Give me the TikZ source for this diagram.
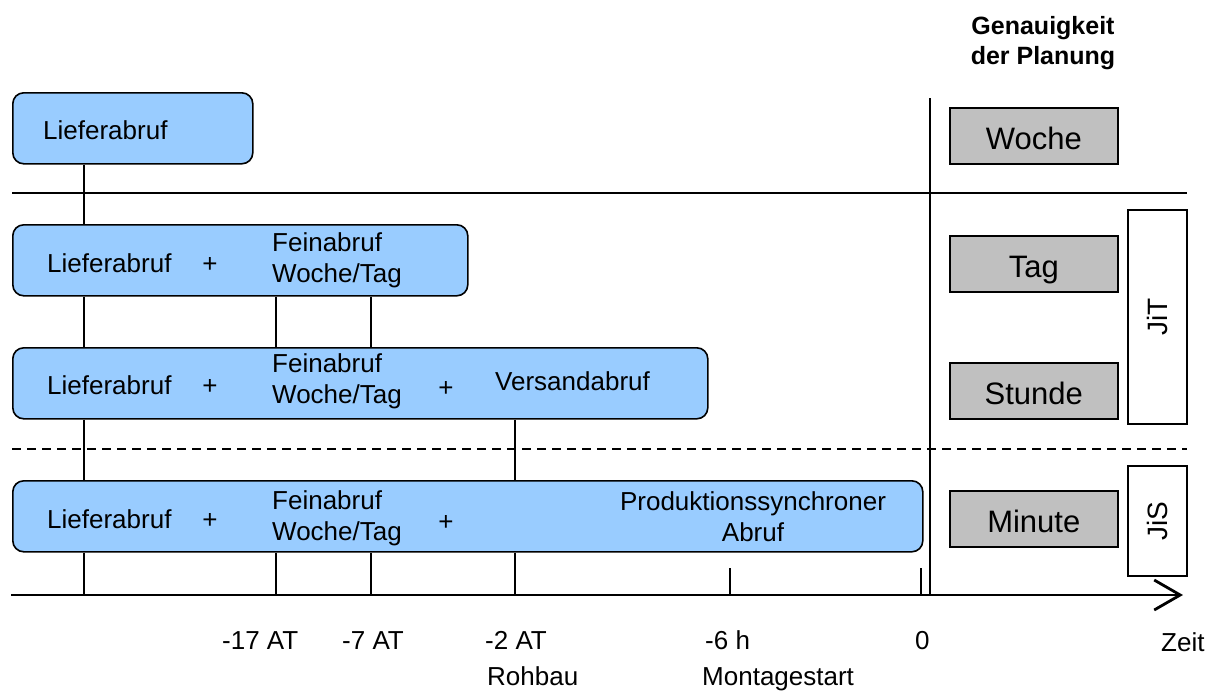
\documentclass[tikz,border=0pt]{standalone}
\usepackage{fontspec}
\setmainfont{Liberation Sans}
\usetikzlibrary{positioning,arrows.meta}
\definecolor{abrufblue}{HTML}{99CCFF}
\definecolor{stufegray}{HTML}{C0C0C0}

\begin{document}
\begin{tikzpicture}[x=1pt,y=-1pt,
  abruf/.style={draw,line width=1.6pt,rounded corners=11pt,fill=abrufblue,anchor=north west,inner sep=0pt,minimum height=71pt},
  stufe/.style={draw,line width=1.6pt,fill=stufegray,anchor=north west,minimum width=168pt,minimum height=56pt,inner sep=0pt,text height=30pt,text depth=2pt,font=\fontsize{31}{36}\selectfont},
  art/.style={draw,line width=1.6pt,anchor=north west,minimum width=59pt,inner sep=0pt},
  txt/.style={inner sep=0pt,font=\fontsize{26}{31}\selectfont},
  conn/.style={line width=1.6pt},
  sep/.style={line width=1.6pt}]
\useasboundingbox (0,0) rectangle (1216,691);

\node[txt,font=\fontsize{25}{30}\selectfont\bfseries,align=center] (head) at (1043,43) {Genauigkeit\\der Planung};

\node[abruf,minimum width=240pt] (lb1) at (12,92) {};
\node[abruf,minimum width=455pt] (lb2) at (12,224) {};
\node[abruf,minimum width=695pt] (lb3) at (12,347) {};
\node[abruf,minimum width=910pt] (lb4) at (12,480) {};

\node[txt,anchor=west] (l1) at (43,130) {Lieferabruf};

\node[txt,anchor=west] (l2) at (47,263) {Lieferabruf};
\node[txt] (p2) at (210,265) {+};
\node[txt,anchor=west,align=left] (f2) at (272,260) {Feinabruf\\Woche/Tag};

\node[txt,anchor=west] (l3) at (47,385) {Lieferabruf};
\node[txt] (p3a) at (210,387) {+};
\node[txt,anchor=west,align=left] (f3) at (272,381) {Feinabruf\\Woche/Tag};
\node[txt] (p3b) at (446,389) {+};
\node[txt,anchor=west] (v3) at (495,381) {Versandabruf};

\node[txt,anchor=west] (l4) at (47,519) {Lieferabruf};
\node[txt] (p4a) at (210,521) {+};
\node[txt,anchor=west,align=left] (f4) at (272,518) {Feinabruf\\Woche/Tag};
\node[txt] (p4b) at (446,523) {+};
\node[txt,align=center] (jis4) at (753,517) {Produktionssynchroner\\Abruf};

\node[stufe] (woche) at (949,107) {Woche};
\node[stufe] (tag) at (949,235) {Tag};
\node[stufe] (stunde) at (949,362) {Stunde};
\node[stufe] (minute) at (949,490) {Minute};

\node[art,minimum height=214pt] (jit) at (1127,209) {};
\node[txt,font=\fontsize{28}{32}\selectfont,rotate=90] at (jit.center) {JiT};
\node[art,minimum height=110pt] (jis) at (1127,465) {};
\node[txt,font=\fontsize{28}{32}\selectfont,rotate=90] at (jis.center) {JiS};

\coordinate (ax0) at (11,595);
\coordinate (ax1) at (1183,595);
\coordinate (xa) at (84,595);
\coordinate (xb) at (276,595);
\coordinate (xc) at (371,595);
\coordinate (xd) at (515,595);
\coordinate (xe) at (730,595);
\coordinate (xf) at (921,595);

\draw[sep] (12,193) -- (1187,193);
\draw[sep,dash pattern=on 9pt off 6pt] (12,449) -- (1187,449);
\draw[sep] (930,98) -- (930,595);

\draw[conn] (lb1.south -| xa) -- (lb2.north -| xa);
\draw[conn] (lb2.south -| xa) -- (lb3.north -| xa);
\draw[conn] (lb2.south -| xb) -- (lb3.north -| xb);
\draw[conn] (lb2.south -| xc) -- (lb3.north -| xc);
\draw[conn] (lb3.south -| xa) -- (lb4.north -| xa);
\draw[conn] (lb3.south -| xd) -- (lb4.north -| xd);
\foreach \t in {xa,xb,xc,xd}
  \draw[conn] (lb4.south -| \t) -- (\t);
\draw[conn] (xe) -- ++(0,-27);
\draw[conn] (xf) -- ++(0,-27);

\draw[line width=2.8pt,-{Straight Barb[length=26pt,width=30pt]}] (ax0) -- (ax1);

\node[txt,anchor=base west] (m17) at (222,649) {-17 AT};
\node[txt,anchor=base west] (m7) at (342,649) {-7 AT};
\node[txt,anchor=base west] (m2) at (485,649) {-2 AT};
\node[txt,anchor=base west] (rohbau) at (487,685) {Rohbau};
\node[txt,anchor=base west] (m6) at (705,649) {-6 h};
\node[txt,anchor=base west] (montage) at (702,685) {Montagestart};
\node[txt,anchor=base west] (null) at (915,649) {0};
\node[txt,anchor=base west] (zeit) at (1161,651) {Zeit};
\end{tikzpicture}
\end{document}
